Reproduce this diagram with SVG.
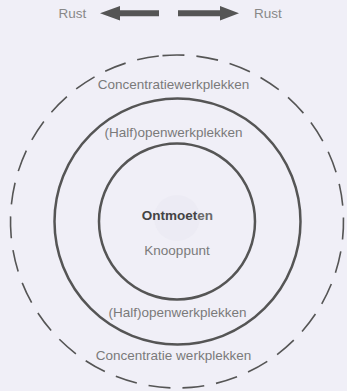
<svg xmlns="http://www.w3.org/2000/svg" width="347" height="391" viewBox="0 0 347 391">
<style>
text{font-family:"Liberation Sans",Arial,sans-serif;font-size:13.5px;text-anchor:middle;fill:#7a7a7a}
.ring{fill:none;stroke:#555;stroke-width:2.5}
.dash{fill:none;stroke:#555;stroke-width:1.6;stroke-dasharray:22 12}
.arrow{fill:#555}
</style>
<rect width="347" height="391" fill="#f0eff7"/>
<g id="rust-left">
<text x="72.5" y="18" style="fill:#888">Rust</text>
</g>
<g id="rust-right">
<text x="268" y="18" style="fill:#888">Rust</text>
</g>
<g id="connectors">
<polygon class="arrow" points="100,13.3 120,6 120,10.3 159,10.3 159,16.3 120,16.3 120,20.6"/>
<polygon class="arrow" points="239,13.3 220,6 220,10.3 178,10.3 178,16.3 220,16.3 220,20.6"/>
</g>
<g id="outer-ring">
<circle class="dash" cx="177" cy="221.5" r="166.5" transform="rotate(-95 177 221.5)"/>
<text x="173.5" y="89">Concentratiewerkplekken</text>
<text x="173.5" y="360">Concentratie werkplekken</text>
</g>
<g id="middle-ring">
<circle class="ring" cx="177.5" cy="221.5" r="123"/>
<text x="173.5" y="137">(Half)openwerkplekken</text>
<text x="177.5" y="317">(Half)openwerkplekken</text>
</g>
<g id="inner-ring">
<circle class="ring" cx="177" cy="221.5" r="78"/>
<circle cx="177" cy="218" r="23" fill="#ecebf4"/>
<text x="177.5" y="220" style="font-weight:bold;fill:#444">Ontmoet<tspan style="fill:#6a6a6a">en</tspan></text>
<text x="177" y="255">Knooppunt</text>
</g>
</svg>
